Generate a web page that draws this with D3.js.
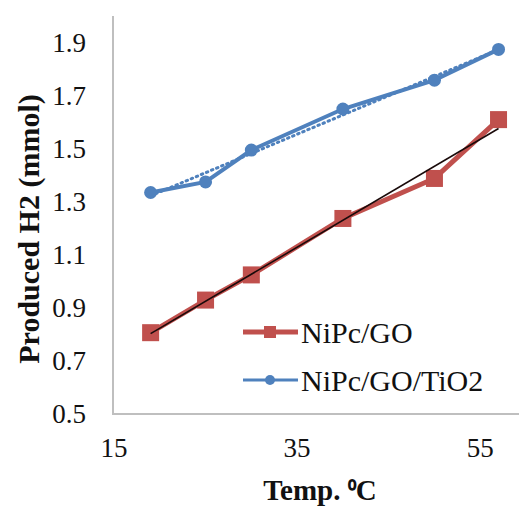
<!DOCTYPE html>
<html><head><meta charset="utf-8">
<script src="https://cdn.jsdelivr.net/npm/d3@7"></script>
<style>html,body{margin:0;padding:0;background:#fff;}svg{display:block;}
svg text{font-family:"Liberation Serif","Times New Roman",serif;}</style>
</head><body>
<svg id="chart" width="519" height="507"></svg>
<script>
const temps = [19, 25, 30, 40, 50, 57];
const seriesNames = ["NiPc/GO", "NiPc/GO/TiO2"];
const niPcGO = [0.805, 0.928, 1.023, 1.236, 1.387, 1.609];
const niPcGOTiO2 = [1.334, 1.374, 1.494, 1.649, 1.758, 1.874];
const xTicks = [15, 35, 55];
const yTicks = [0.5, 0.7, 0.9, 1.1, 1.3, 1.5, 1.7, 1.9];
const xTitleMain = "Temp. ";
const xTitleSup = "⁰";
const xTitleUnit = "C";
const yTitle = "Produced H2 (mmol)";

const svg = d3.select("#chart");
const x = d3.scaleLinear().domain([15, 60]).range([114, 526]);
const y = d3.scaleLinear().domain([0.5, 2.0]).range([413.5, 16]);
const axisColor = "#bfbfbf";

// axes
svg.append("line").attr("x1", 113).attr("x2", 113).attr("y1", y(2.0)).attr("y2", y(0.5)+0.5)
  .attr("stroke", axisColor).attr("stroke-width", 2);
svg.append("line").attr("x1", 112).attr("x2", 519).attr("y1", y(0.5)+0.5).attr("y2", y(0.5)+0.5)
  .attr("stroke", axisColor).attr("stroke-width", 2);

svg.append("g").selectAll("text").data(yTicks).join("text")
  .attr("x", 86).attr("y", d => y(d)).attr("dy", "0.34em")
  .attr("text-anchor", "end").attr("font-size", 27).attr("fill", "#111")
  .text(d => d.toFixed(1));
svg.append("g").selectAll("text").data(xTicks).join("text")
  .attr("x", d => x(d)).attr("y", 457)
  .attr("text-anchor", "middle").attr("font-size", 27).attr("fill", "#111")
  .text(d => d);

svg.append("text").attr("transform", "translate(39,229) rotate(-90)")
  .attr("text-anchor", "middle").attr("font-weight", "bold")
  .attr("font-size", 30).attr("fill", "#111").text(yTitle);
const xt = svg.append("text").attr("x", 320).attr("y", 500)
  .attr("text-anchor", "middle").attr("font-weight", "bold")
  .attr("font-size", 29).attr("fill", "#111");
xt.append("tspan").text(xTitleMain);
xt.append("tspan").attr("font-size", 24).text(xTitleSup);
xt.append("tspan").text(xTitleUnit);

function linfit(xs, ys) {
  const mx = d3.mean(xs), my = d3.mean(ys);
  let sxy = 0, sxx = 0;
  xs.forEach((v, i) => { sxy += (v - mx) * (ys[i] - my); sxx += (v - mx) * (v - mx); });
  const b = sxy / sxx, a = my - b * mx;
  return v => a + b * v;
}
const line = d3.line().x(d => x(d[0])).y(d => y(d[1]));
const red = "#c0504d", blue = "#4f81bd";
const redData = temps.map((t, i) => [t, niPcGO[i]]);
const blueData = temps.map((t, i) => [t, niPcGOTiO2[i]]);

// blue series
svg.append("path").attr("d", line(blueData)).attr("fill", "none").attr("stroke", blue).attr("stroke-width", 4);
const fb = linfit(temps, niPcGOTiO2);
const x0 = d3.min(temps), x1 = d3.max(temps);
svg.append("path").attr("d", line([[x0, fb(x0)], [x1, fb(x1)]])).attr("fill", "none")
  .attr("stroke", blue).attr("stroke-width", 3).attr("stroke-dasharray", "1.5,4").attr("stroke-linecap", "round");
svg.append("g").selectAll("circle").data(blueData).join("circle")
  .attr("cx", d => x(d[0])).attr("cy", d => y(d[1])).attr("r", 6.5).attr("fill", blue);

// red series
svg.append("path").attr("d", line(redData)).attr("fill", "none").attr("stroke", red).attr("stroke-width", 5);
svg.append("g").selectAll("rect").data(redData).join("rect")
  .attr("x", d => x(d[0]) - 8.5).attr("y", d => y(d[1]) - 8.5).attr("width", 17).attr("height", 17).attr("fill", red);
const fr = linfit(temps, niPcGO);
svg.append("path").attr("d", line([[x0, fr(x0)], [x1, fr(x1)]])).attr("fill", "none")
  .attr("stroke", "#1a0a0a").attr("stroke-width", 1.6);

// legend
const leg = svg.append("g");
const legY = [332, 380];
leg.append("line").attr("x1", 243).attr("x2", 298).attr("y1", legY[0]).attr("y2", legY[0]).attr("stroke", red).attr("stroke-width", 5);
leg.append("rect").attr("x", 264).attr("y", legY[0] - 6).attr("width", 12).attr("height", 12).attr("fill", red);
leg.append("line").attr("x1", 243).attr("x2", 298).attr("y1", legY[1]).attr("y2", legY[1]).attr("stroke", blue).attr("stroke-width", 3);
leg.append("circle").attr("cx", 270).attr("cy", legY[1]).attr("r", 5).attr("fill", blue);
leg.selectAll("text").data(seriesNames).join("text")
  .attr("x", 301).attr("y", (d, i) => legY[i]).attr("dy", "0.35em")
  .attr("font-size", 30).attr("fill", "#111").text(d => d);
</script>
</body></html>
